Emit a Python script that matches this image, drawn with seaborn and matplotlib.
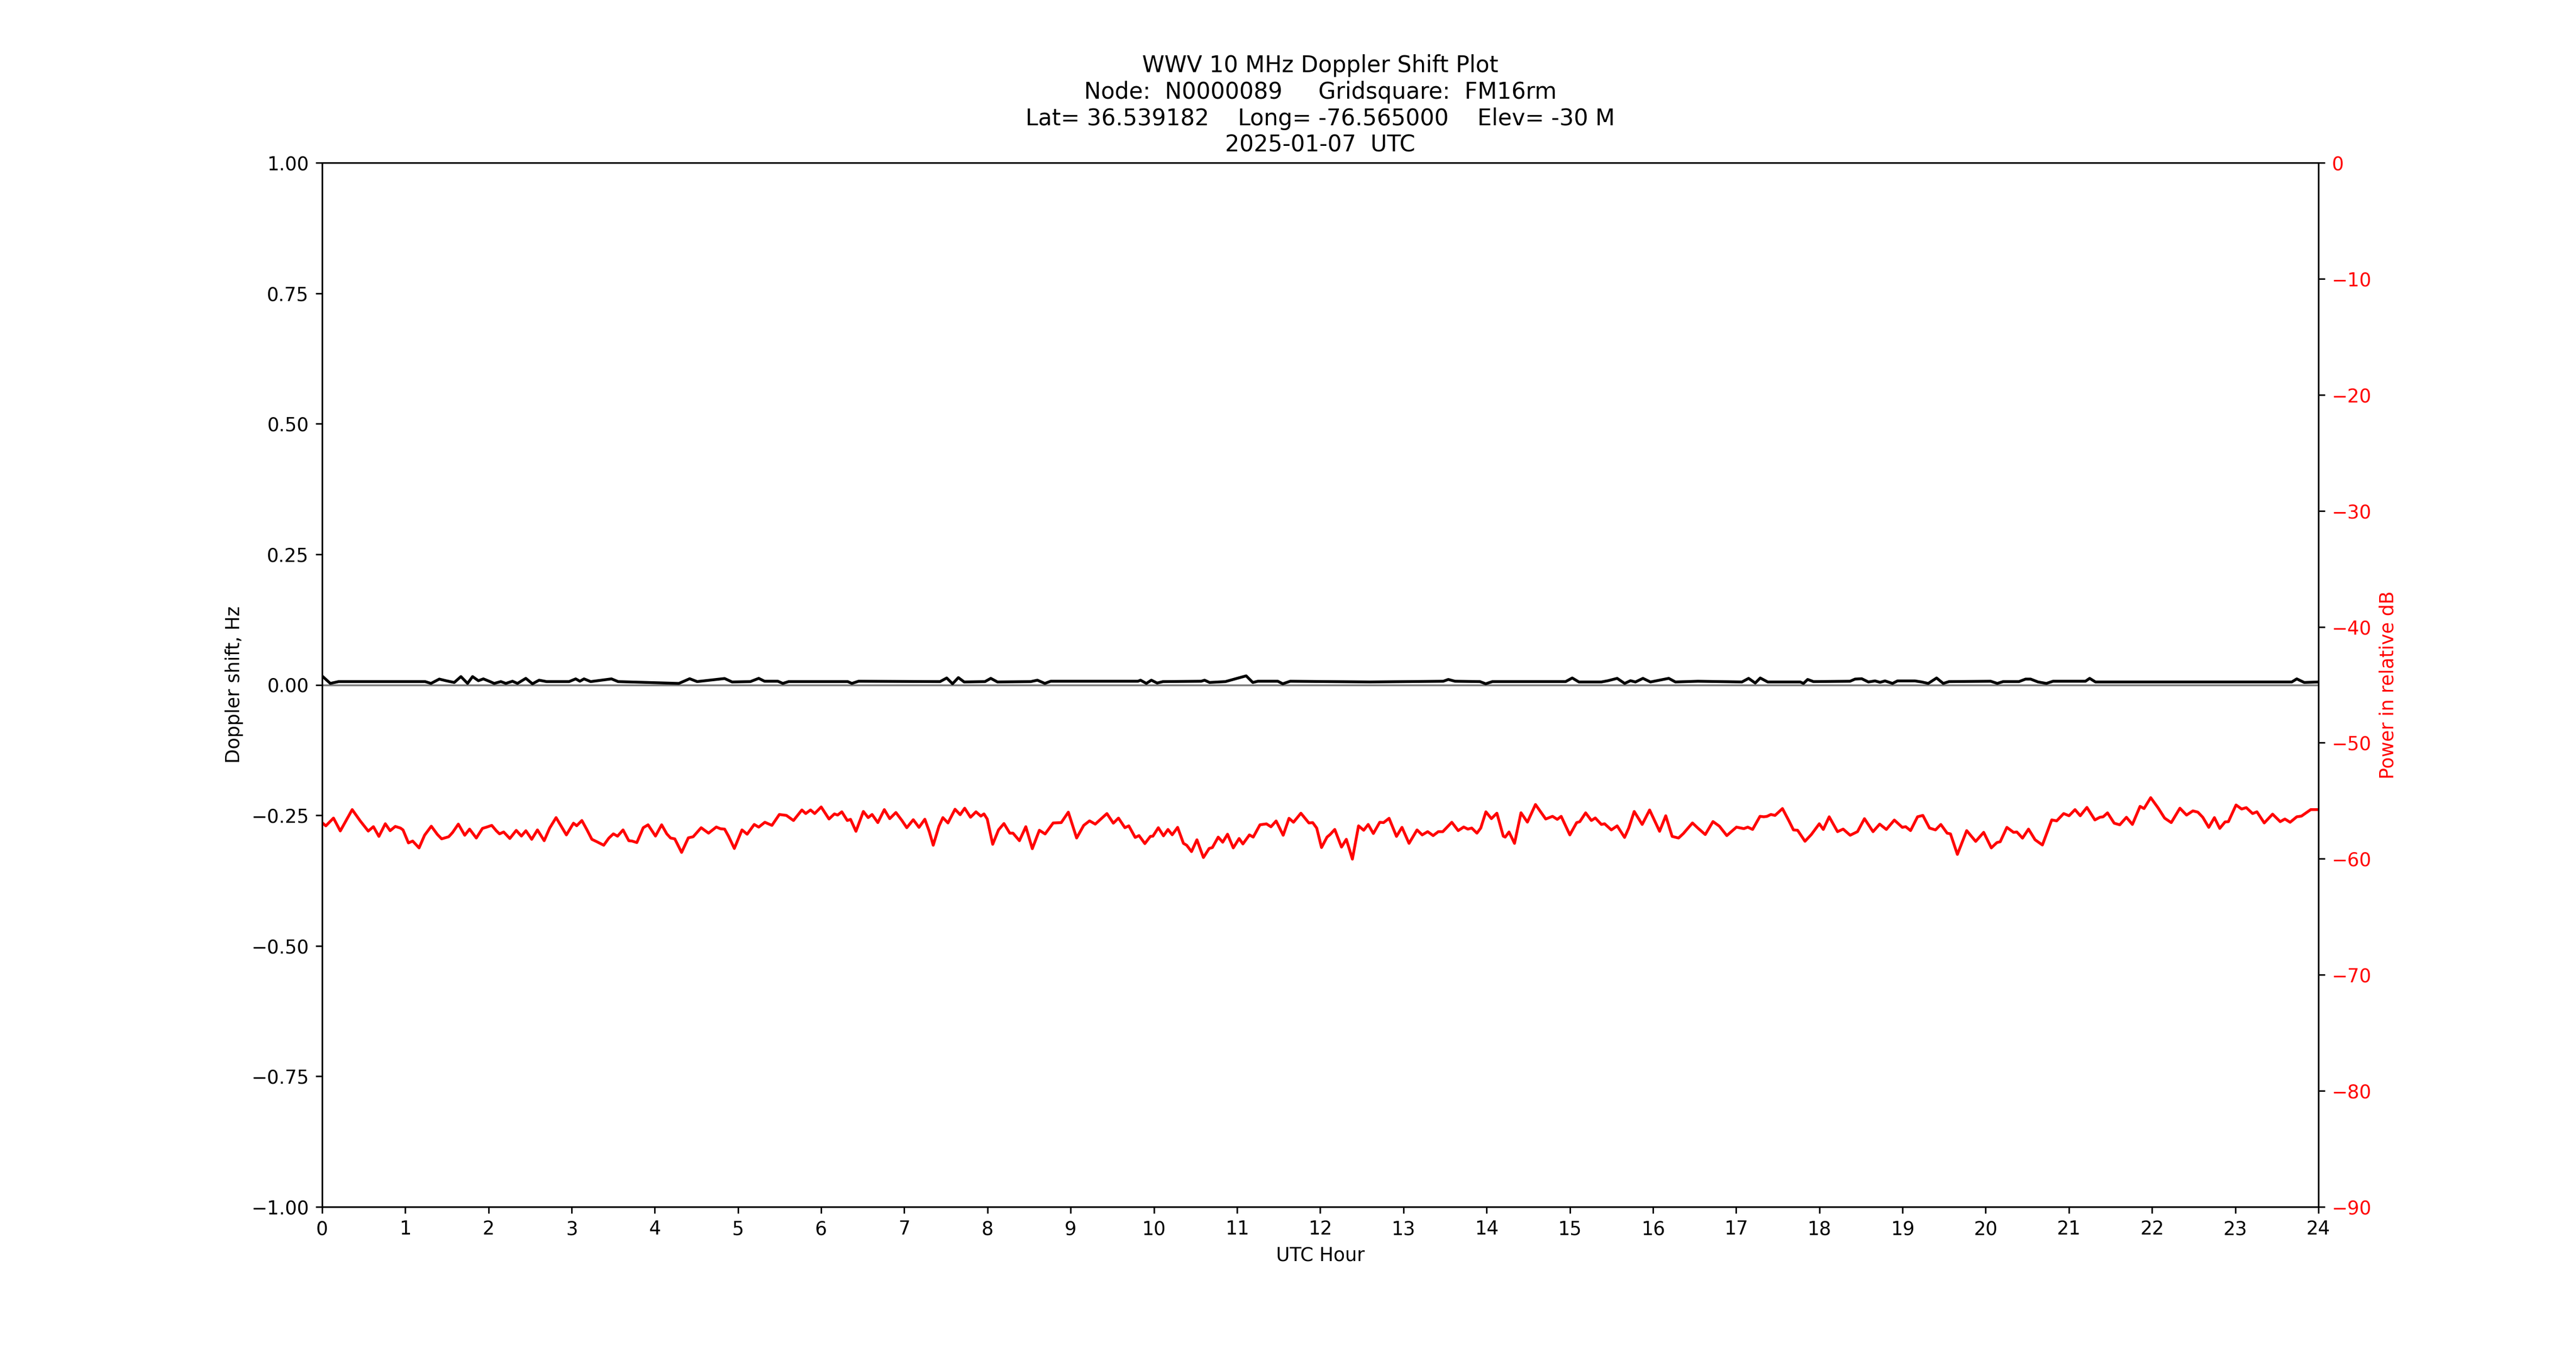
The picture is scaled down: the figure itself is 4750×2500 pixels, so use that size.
import numpy as np
import pandas as pd
import matplotlib
matplotlib.use("Agg")
import matplotlib.pyplot as plt
import seaborn as sns

# Doppler shift (black), UTC hour / Hz
doppler_hour = [0.0, 0.10, 0.20, 1.24, 1.31, 1.41, 1.49, 1.59, 1.67, 1.75, 1.81, 1.88,
                1.94, 2.02, 2.07, 2.15, 2.21, 2.29, 2.35, 2.45, 2.53, 2.61, 2.70, 2.97,
                3.05, 3.10, 3.15, 3.23, 3.48, 3.56, 4.29, 4.42, 4.51, 4.84, 4.93, 5.15,
                5.25, 5.32, 5.48, 5.54, 5.61, 6.32, 6.37, 6.45, 7.43, 7.51, 7.58, 7.65,
                7.72, 7.97, 8.04, 8.12, 8.52, 8.60, 8.69, 8.76, 9.81, 9.84, 9.91, 9.97,
                10.04, 10.11, 10.57, 10.61, 10.67, 10.86, 11.11, 11.19, 11.25, 11.49, 11.55, 11.64,
                12.60, 13.48, 13.54, 13.62, 13.92, 13.99, 14.07, 14.95, 15.03, 15.11, 15.38, 15.46,
                15.57, 15.66, 15.73, 15.79, 15.88, 15.97, 16.19, 16.27, 16.54, 17.07, 17.15, 17.23,
                17.29, 17.38, 17.77, 17.81, 17.86, 17.93, 18.37, 18.43, 18.51, 18.59, 18.67, 18.73,
                18.79, 18.88, 18.94, 19.15, 19.23, 19.31, 19.41, 19.49, 19.56, 20.06, 20.14, 20.21,
                20.40, 20.48, 20.54, 20.63, 20.73, 20.81, 21.20, 21.25, 21.32, 23.68, 23.74, 23.83,
                24.0]
doppler_hz = [0.0171, 0.0026, 0.0061, 0.0061, 0.0026, 0.0109, 0.0078, 0.0044, 0.0157, 0.0026, 0.0157, 0.0078,
              0.0113, 0.0061, 0.0026, 0.0061, 0.0026, 0.0068, 0.0026, 0.0123, 0.0019, 0.0088, 0.0061, 0.0061,
              0.0113, 0.0068, 0.0113, 0.0061, 0.0113, 0.0061, 0.0026, 0.0116, 0.0061, 0.0120, 0.0054, 0.0061,
              0.0123, 0.0068, 0.0068, 0.0026, 0.0061, 0.0061, 0.0026, 0.0068, 0.0061, 0.0130, 0.0019, 0.0137,
              0.0054, 0.0061, 0.0123, 0.0054, 0.0061, 0.0088, 0.0026, 0.0068, 0.0068, 0.0088, 0.0026, 0.0088,
              0.0033, 0.0061, 0.0068, 0.0088, 0.0044, 0.0061, 0.0171, 0.0044, 0.0068, 0.0068, 0.0019, 0.0068,
              0.0054, 0.0068, 0.0102, 0.0068, 0.0061, 0.0019, 0.0061, 0.0061, 0.0130, 0.0054, 0.0054, 0.0078,
              0.0123, 0.0026, 0.0078, 0.0054, 0.0123, 0.0054, 0.0123, 0.0054, 0.0068, 0.0054, 0.0123, 0.0033,
              0.0130, 0.0054, 0.0054, 0.0026, 0.0102, 0.0061, 0.0068, 0.0109, 0.0116, 0.0054, 0.0074, 0.0047,
              0.0074, 0.0026, 0.0074, 0.0074, 0.0054, 0.0026, 0.0130, 0.0026, 0.0061, 0.0068, 0.0026, 0.0061,
              0.0061, 0.0109, 0.0109, 0.0054, 0.0026, 0.0068, 0.0068, 0.0123, 0.0054, 0.0054, 0.0113, 0.0044,
              0.0054]

# received power (red), UTC hour / dB
power_hour = [0.0, 0.046, 0.138, 0.220, 0.363, 0.459, 0.556, 0.618, 0.684, 0.761, 0.819, 0.881,
              0.943, 0.974, 1.039, 1.090, 1.167, 1.233, 1.314, 1.387, 1.438, 1.523, 1.569, 1.639,
              1.716, 1.774, 1.855, 1.929, 1.979, 2.041, 2.095, 2.134, 2.184, 2.258, 2.335, 2.397,
              2.451, 2.521, 2.590, 2.671, 2.737, 2.814, 2.876, 2.938, 3.023, 3.062, 3.124, 3.186,
              3.244, 3.302, 3.387, 3.449, 3.503, 3.553, 3.619, 3.688, 3.727, 3.785, 3.862, 3.920,
              4.009, 4.083, 4.145, 4.191, 4.241, 4.323, 4.404, 4.462, 4.558, 4.647, 4.740, 4.790,
              4.840, 4.887, 4.957, 5.049, 5.111, 5.196, 5.250, 5.324, 5.409, 5.498, 5.583, 5.668,
              5.769, 5.815, 5.873, 5.923, 6.001, 6.095, 6.160, 6.199, 6.249, 6.315, 6.354, 6.419,
              6.508, 6.566, 6.613, 6.682, 6.760, 6.825, 6.899, 6.972, 7.030, 7.108, 7.177, 7.247,
              7.301, 7.348, 7.417, 7.464, 7.525, 7.572, 7.610, 7.672, 7.726, 7.796, 7.862, 7.920,
              7.958, 7.997, 8.063, 8.133, 8.198, 8.268, 8.307, 8.384, 8.461, 8.539, 8.624, 8.693,
              8.790, 8.887, 8.972, 9.072, 9.157, 9.227, 9.296, 9.436, 9.513, 9.575, 9.652, 9.699,
              9.776, 9.822, 9.892, 9.958, 9.989, 10.054, 10.116, 10.170, 10.221, 10.286, 10.356, 10.395,
              10.453, 10.518, 10.596, 10.665, 10.704, 10.774, 10.828, 10.886, 10.955, 11.025, 11.071, 11.149,
              11.195, 11.276, 11.354, 11.408, 11.470, 11.555, 11.625, 11.679, 11.768, 11.864, 11.910, 11.958,
              12.016, 12.082, 12.120, 12.175, 12.256, 12.314, 12.387, 12.461, 12.523, 12.577, 12.639, 12.716,
              12.762, 12.828, 12.917, 12.983, 13.068, 13.164, 13.226, 13.292, 13.358, 13.420, 13.474, 13.582,
              13.659, 13.725, 13.775, 13.822, 13.884, 13.930, 13.992, 14.058, 14.124, 14.201, 14.224, 14.270,
              14.336, 14.414, 14.491, 14.588, 14.711, 14.793, 14.850, 14.897, 15.001, 15.083, 15.121, 15.191,
              15.260, 15.307, 15.380, 15.419, 15.500, 15.570, 15.659, 15.709, 15.775, 15.871, 15.960, 16.080,
              16.154, 16.231, 16.308, 16.366, 16.475, 16.540, 16.629, 16.722, 16.799, 16.888, 17.004, 17.093,
              17.140, 17.198, 17.287, 17.333, 17.372, 17.418, 17.468, 17.557, 17.635, 17.689, 17.739, 17.828,
              17.905, 18.000, 18.048, 18.119, 18.219, 18.287, 18.371, 18.459, 18.543, 18.646, 18.726, 18.806,
              18.902, 18.998, 19.038, 19.097, 19.181, 19.245, 19.325, 19.397, 19.461, 19.537, 19.577, 19.660,
              19.772, 19.880, 19.976, 20.068, 20.135, 20.175, 20.255, 20.335, 20.375, 20.443, 20.515, 20.594,
              20.682, 20.794, 20.854, 20.938, 21.002, 21.074, 21.137, 21.217, 21.313, 21.373, 21.413, 21.465,
              21.545, 21.612, 21.692, 21.764, 21.856, 21.904, 21.984, 22.072, 22.151, 22.231, 22.335, 22.415,
              22.491, 22.551, 22.610, 22.682, 22.750, 22.814, 22.878, 22.918, 23.010, 23.077, 23.133, 23.209,
              23.261, 23.349, 23.449, 23.541, 23.597, 23.660, 23.740, 23.796, 23.908, 24.0]
power_db = [-56.88, -57.16, -56.49, -57.60, -55.76, -56.73, -57.61, -57.23, -58.07, -56.98, -57.58, -57.21,
            -57.35, -57.51, -58.63, -58.47, -59.06, -57.97, -57.19, -57.90, -58.28, -58.10, -57.74, -57.01,
            -57.97, -57.44, -58.21, -57.38, -57.27, -57.12, -57.58, -57.85, -57.69, -58.25, -57.55, -58.04,
            -57.58, -58.32, -57.51, -58.44, -57.35, -56.45, -57.19, -57.94, -56.93, -57.15, -56.70, -57.51,
            -58.32, -58.52, -58.83, -58.21, -57.85, -58.05, -57.51, -58.44, -58.47, -58.60, -57.32, -57.07,
            -58.04, -57.07, -57.85, -58.21, -58.28, -59.45, -58.19, -58.10, -57.32, -57.79, -57.26, -57.41,
            -57.44, -58.05, -59.11, -57.51, -57.88, -57.04, -57.27, -56.85, -57.12, -56.18, -56.26, -56.70,
            -55.79, -56.10, -55.79, -56.10, -55.53, -56.57, -56.13, -56.23, -55.95, -56.70, -56.60, -57.63,
            -55.92, -56.45, -56.18, -56.88, -55.76, -56.54, -56.01, -56.70, -57.32, -56.63, -57.29, -56.59,
            -57.66, -58.83, -57.19, -56.45, -56.91, -56.26, -55.73, -56.20, -55.64, -56.42, -55.95, -56.32,
            -56.13, -56.57, -58.75, -57.51, -56.96, -57.79, -57.79, -58.44, -57.23, -59.13, -57.54, -57.86,
            -56.91, -56.88, -55.98, -58.21, -57.12, -56.73, -57.01, -56.10, -56.93, -56.49, -57.32, -57.16,
            -58.16, -58.00, -58.69, -58.07, -58.05, -57.32, -58.02, -57.47, -57.93, -57.29, -58.67, -58.83,
            -59.38, -58.36, -59.89, -59.11, -59.03, -58.13, -58.57, -57.88, -59.06, -58.25, -58.72, -57.94,
            -58.13, -57.07, -56.99, -57.24, -56.74, -57.97, -56.51, -56.85, -56.07, -56.91, -56.88, -57.35,
            -59.03, -58.13, -57.90, -57.47, -58.99, -58.32, -60.03, -57.16, -57.54, -57.04, -57.82, -56.85,
            -56.88, -56.51, -58.07, -57.29, -58.67, -57.51, -57.94, -57.66, -58.00, -57.66, -57.66, -56.85,
            -57.57, -57.26, -57.44, -57.35, -57.79, -57.35, -55.95, -56.54, -56.07, -58.05, -58.13, -57.69,
            -58.67, -56.03, -56.84, -55.32, -56.57, -56.34, -56.60, -56.34, -57.94, -56.88, -56.80, -56.04,
            -56.70, -56.48, -57.04, -56.98, -57.51, -57.16, -58.16, -57.35, -55.92, -57.04, -55.79, -57.63,
            -56.29, -58.07, -58.21, -57.82, -56.91, -57.35, -57.91, -56.79, -57.19, -58.00, -57.27, -57.40,
            -57.27, -57.47, -56.34, -56.38, -56.34, -56.18, -56.26, -55.67, -56.73, -57.51, -57.54, -58.49,
            -57.90, -56.98, -57.47, -56.38, -57.66, -57.44, -57.97, -57.66, -56.54, -57.66, -57.01, -57.47,
            -56.66, -57.29, -57.23, -57.57, -56.38, -56.26, -57.35, -57.51, -57.04, -57.79, -57.85, -59.62,
            -57.57, -58.50, -57.72, -59.06, -58.60, -58.53, -57.29, -57.72, -57.69, -58.22, -57.44, -58.36,
            -58.81, -56.65, -56.73, -56.10, -56.29, -55.76, -56.29, -55.57, -56.65, -56.42, -56.38, -56.04,
            -56.93, -57.07, -56.42, -57.04, -55.48, -55.67, -54.73, -55.60, -56.49, -56.88, -55.64, -56.23,
            -55.87, -55.98, -56.42, -57.29, -56.45, -57.38, -56.82, -56.80, -55.36, -55.71, -55.59, -56.10,
            -55.95, -56.91, -56.15, -56.80, -56.57, -56.85, -56.38, -56.32, -55.76, -55.76]

hour_ticks = list(range(0, 25))
title = ("WWV 10 MHz Doppler Shift Plot\n"
         "Node:  N0000089     Gridsquare:  FM16rm\n"
         "Lat= 36.539182    Long= -76.565000    Elev= -30 M\n"
         "2025-01-07  UTC")

df_dop = pd.DataFrame({"hour": doppler_hour, "hz": doppler_hz})
df_pwr = pd.DataFrame({"hour": power_hour, "db": power_db})

fig, ax = plt.subplots(figsize=(19, 10), dpi=250)

ax.axhline(0, color="grey", linewidth=1)
sns.lineplot(data=df_dop, x="hour", y="hz", ax=ax, color="black",
             linewidth=1.5, sort=False, errorbar=None)
ax.set_ylim(-1, 1)
ax.set_yticks(np.linspace(-1, 1, 9))
ax.set_xlabel("UTC Hour")
ax.set_ylabel("Doppler shift, Hz")
ax.set_title(title)

ax2 = ax.twinx()
sns.lineplot(data=df_pwr, x="hour", y="db", ax=ax2, color="red",
             linewidth=1.5, sort=False, errorbar=None)
ax2.set_ylim(-90, 0)
ax2.set_ylabel("Power in relative dB", color="red")
ax2.tick_params(axis="y", labelcolor="red")

ax.set_xlim(0, 24)
ax.set_xticks(hour_ticks)
ax.set_xlabel("UTC Hour")

fig.savefig("out.png", dpi=250)
